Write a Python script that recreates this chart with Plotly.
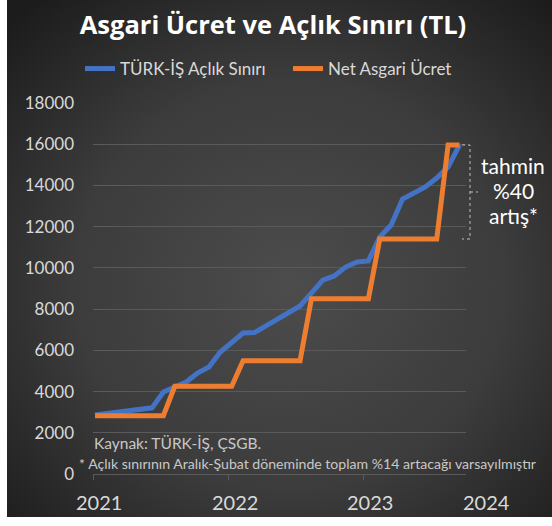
import base64
import plotly.graph_objects as go

# ---- data ----
months = ["2021-06", "2021-07", "2021-08", "2021-09", "2021-10", "2021-11", "2021-12",
          "2022-01", "2022-02", "2022-03", "2022-04", "2022-05", "2022-06",
          "2022-07", "2022-08", "2022-09", "2022-10", "2022-11", "2022-12",
          "2023-01", "2023-02", "2023-03", "2023-04", "2023-05", "2023-06",
          "2023-07", "2023-08", "2023-09", "2023-10", "2023-11", "2023-12",
          "2024-01", "2024-02"]
aclik_siniri = [2860, 2920, 2990, 3060, 3120, 3210, 3980,
                4220, 4460, 4900, 5190, 5920, 6360,
                6840, 6860, 7180, 7470, 7860, 8150,
                8780, 9410, 9610, 10040, 10290, 10340,
                11500, 12080, 13340, 13630, 13930, 14360,
                14900, 15963]
net_asgari = [2825.90, 2825.90, 2825.90, 2825.90, 2825.90, 2825.90, 2825.90,
              4253.40, 4253.40, 4253.40, 4253.40, 4253.40, 4253.40,
              5500.35, 5500.35, 5500.35, 5500.35, 5500.35, 5500.35,
              8506.80, 8506.80, 8506.80, 8506.80, 8506.80, 8506.80,
              11402.32, 11402.32, 11402.32, 11402.32, 11402.32, 11402.32,
              15963, 15963]
year_labels = ["2021", "2022", "2023", "2024"]
y_ticks = [0, 2000, 4000, 6000, 8000, 10000, 12000, 14000, 16000, 18000]
y_tick_text = ["0", "2000", "4000", "6000", "8000", "10000", "12000", "14000", "16000", "18000"]

x = list(range(len(months)))

FONT = "Lato"
TXT = "#d9d9d9"

# background gradient (radial) as svg image
svg = ('<svg xmlns="http://www.w3.org/2000/svg" width="545" height="517" '
       'preserveAspectRatio="none" viewBox="0 0 545 517">'
       '<defs><radialGradient id="g" cx="52%" cy="55%" r="72%">'
       '<stop offset="0%" stop-color="#4c4c4c"/>'
       '<stop offset="55%" stop-color="#3c3c3c"/>'
       '<stop offset="100%" stop-color="#1c1c1c"/>'
       '</radialGradient></defs>'
       '<rect width="545" height="517" fill="url(#g)"/></svg>')
bg_src = "data:image/svg+xml;base64," + base64.b64encode(svg.encode()).decode()

fig = go.Figure()
fig.add_trace(go.Scatter(x=x, y=aclik_siniri, mode="lines", name="TÜRK-İŞ Açlık Sınırı",
                         line=dict(color="#4472C4", width=5)))
fig.add_trace(go.Scatter(x=x, y=net_asgari, mode="lines", name="Net Asgari Ücret",
                         line=dict(color="#ED7D31", width=5)))

# plot area: x 93..466 px, y 103..474 px
L, R, T, B = 93, 466, 103, 474
W, H = 552, 526
pw, ph = R - L, B - T


def px(p):
    return (p - L) / pw


def py(p):
    return (B - p) / ph


fig.update_layout(
    width=W, height=H,
    margin=dict(l=L, r=W - R, t=T, b=H - B, autoexpand=False),
    paper_bgcolor="white",
    plot_bgcolor="rgba(0,0,0,0)",
    font=dict(family=FONT, color=TXT),
    showlegend=True,
    title=dict(text="<b>Asgari Ücret ve Açlık Sınırı (TL)</b>",
               x=273 / W, xanchor="center", y=1 - 25 / H, yanchor="middle",
               xref="container", yref="container",
               font=dict(family="Open Sans", size=25.5, color="white")),
    legend=dict(orientation="h", x=px(80), xanchor="left", y=py(69), yanchor="middle",
                font=dict(family=FONT, size=17, color=TXT),
                bgcolor="rgba(0,0,0,0)", itemwidth=30, entrywidth=163,
                entrywidthmode="pixels"),
    xaxis=dict(range=[-0.18, 32.57], showgrid=False, zeroline=False, automargin=False,
               showticklabels=False, ticks="outside", ticklen=5, tickcolor="#5a5a5a",
               tickvals=[-0.18, 11.72, 23.6], showline=False, fixedrange=True),
    yaxis=dict(range=[0, 18000], tickvals=y_ticks, ticktext=y_tick_text, showgrid=True,
               gridcolor="#5a5a5a", automargin=False,
               gridwidth=1, zeroline=True, zerolinecolor="#5a5a5a", zerolinewidth=1,
               tickfont=dict(family=FONT, size=17, color=TXT), ticks="",
               ticklabelstandoff=18, showline=False, fixedrange=True),
)

fig.add_layout_image(dict(source=bg_src, xref="paper", yref="paper",
                          x=px(7), y=py(0), sizex=(W - 7) / pw, sizey=517 / ph,
                          xanchor="left", yanchor="top", sizing="stretch",
                          layer="below"))

# year labels (centres in px; last one lies outside the plot area)
year_px = [99, 235, 370, 486]
for lab, p in zip(year_labels, year_px):
    fig.add_annotation(x=px(p), xref="paper", y=py(502), yref="paper", text=lab,
                       showarrow=False, xanchor="center", yanchor="middle",
                       font=dict(family=FONT, size=20, color=TXT))

fig.add_annotation(x=px(92), xref="paper", y=py(443), yref="paper",
                   text="Kaynak: TÜRK-İŞ, ÇSGB.", showarrow=False,
                   xanchor="left", yanchor="middle",
                   font=dict(family=FONT, size=15.5, color="#c8c8c8"))
fig.add_annotation(x=px(77), xref="paper", y=py(463), yref="paper",
                   text="* Açlık sınırının Aralık-Şubat döneminde toplam %14 artacağı varsayılmıştır",
                   showarrow=False, xanchor="left", yanchor="middle",
                   font=dict(family=FONT, size=14.1, color="#c8c8c8"))

for txt, yy in zip(["tahmin", "%40", "artış*"], [165, 190, 215]):
    fig.add_annotation(x=px(513), xref="paper", y=py(yy), yref="paper",
                       text=txt, showarrow=False,
                       xanchor="center", yanchor="middle", align="center",
                       font=dict(family=FONT, size=21, color="white"))

# bracket
y_top = net_asgari[-1]
y_bot = net_asgari[-3]
y_mid = (y_top + y_bot) / 2
xa, xb, xc = px(462), px(470), px(478)
path = (f"M {xa},{y_top} L {xb},{y_top} L {xb},{y_bot} L {xa},{y_bot} "
        f"M {xb},{y_mid} L {xc},{y_mid}")
fig.add_shape(type="path", path=path, xref="paper", yref="y",
              line=dict(color="#bfbfbf", width=1, dash="dot"))

fig.write_html("out.html")
